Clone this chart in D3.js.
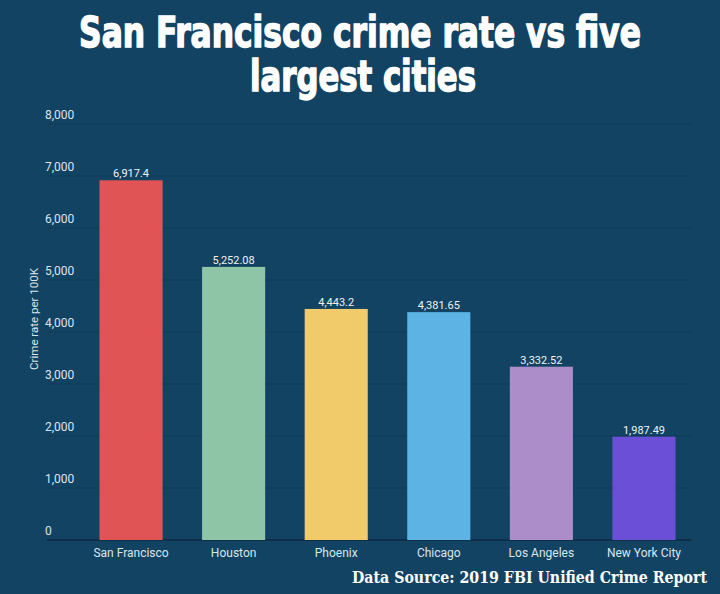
<!DOCTYPE html>
<html><head><meta charset="utf-8">
<script src="https://cdn.jsdelivr.net/npm/d3@7"></script>
<style>html,body{margin:0;padding:0;background:#134362;}svg{display:block;}</style>
</head><body>
<script>
const cities = ["San Francisco","Houston","Phoenix","Chicago","Los Angeles","New York City"];
const crimeRates = [6917.4, 5252.08, 4443.2, 4381.65, 3332.52, 1987.49];
const valueLabels = ["6,917.4","5,252.08","4,443.2","4,381.65","3,332.52","1,987.49"];
const barColors = ["#e05456","#8dc5a6","#f1cb6a","#5db4e4","#ad8dc9","#6c4fd7"];
const yTicks = [0,1000,2000,3000,4000,5000,6000,7000,8000];
const titleLines = ["San Francisco crime rate vs five","largest cities"];
const yTitle = "Crime rate per 100K";
const source = "Data Source: 2019 FBI Unified Crime Report";

const W=720,H=594;
const svg=d3.select("body").append("svg").attr("width",W).attr("height",H);
svg.append("rect").attr("width",W).attr("height",H).attr("fill","#134362");

const x=d3.scaleBand().domain(cities).range([80,695]).paddingInner(0.385).paddingOuter(0.19);
const y=d3.scaleLinear().domain([0,8000]).range([540,124]);

// title (condensed horizontally to match the reference's compressed face)
const tfont="'Liberation Sans Narrow','DejaVu Sans Condensed',sans-serif";
function fitText(g, txt, cx, by, targetW, size, family, weight, strokeW){
  const grp=g.append("g");
  const t=grp.append("text").attr("x",0).attr("y",0).attr("text-anchor","middle")
    .attr("font-family",family).attr("font-weight",weight).attr("font-size",size)
    .attr("fill","#ffffff").attr("stroke","#ffffff").attr("stroke-width",strokeW).text(txt);
  const nat=t.node().getComputedTextLength();
  const s=targetW/nat;
  grp.attr("transform",`translate(${cx},${by}) scale(${s},1)`);
  t.attr("stroke-width",strokeW/Math.sqrt(s));
}
fitText(svg,titleLines[0],360,47,562,42,tfont,"bold",1.3);
fitText(svg,titleLines[1],363,91,226,42,tfont,"bold",1.3);

// gridlines
svg.append("g").selectAll("line").data(yTicks).join("line")
  .attr("x1",47).attr("x2",691).attr("y1",d=>y(d)).attr("y2",d=>y(d))
  .attr("stroke",d=>d===0?"#0b2a40":"#103b59").attr("stroke-width",d=>d===0?1.5:1.2);

// y tick labels
svg.append("g").selectAll("text").data(yTicks).join("text")
  .attr("x",45).attr("y",d=>y(d)-5)
  .attr("font-family","Roboto,sans-serif").attr("font-size",12)
  .attr("fill","#dbe5ec").text(d=>d3.format(",")(d));

// y title
svg.append("text").attr("transform","translate(38,319) rotate(-90)")
  .attr("text-anchor","middle").attr("font-family","Roboto,sans-serif")
  .attr("font-size",11.5).attr("fill","#dbe5ec").text(yTitle);

// bars
svg.append("g").selectAll("rect").data(cities).join("rect")
  .attr("x",d=>x(d)).attr("width",x.bandwidth())
  .attr("y",(d,i)=>y(crimeRates[i])).attr("height",(d,i)=>y(0)-y(crimeRates[i]))
  .attr("fill",(d,i)=>barColors[i]);

// value labels
svg.append("g").selectAll("text").data(cities).join("text")
  .attr("x",d=>x(d)+x.bandwidth()/2).attr("y",(d,i)=>y(crimeRates[i])-3)
  .attr("text-anchor","middle").attr("font-family","Roboto,sans-serif")
  .attr("font-size",11).attr("fill","#eef3f6").text((d,i)=>valueLabels[i]);

// x labels
svg.append("g").selectAll("text").data(cities).join("text")
  .attr("x",d=>x(d)+x.bandwidth()/2).attr("y",557)
  .attr("text-anchor","middle").attr("font-family","Roboto,sans-serif")
  .attr("font-size",12).attr("fill","#dbe5ec").text(d=>d);

// source
svg.append("text").attr("x",707).attr("y",583).attr("text-anchor","end")
  .attr("font-family","'DejaVu Serif Condensed','DejaVu Serif',serif").attr("font-weight","bold")
  .attr("font-size",16).attr("fill","#ffffff").attr("textLength",355).attr("lengthAdjust","spacingAndGlyphs")
  .text(source);
</script>
</body></html>
